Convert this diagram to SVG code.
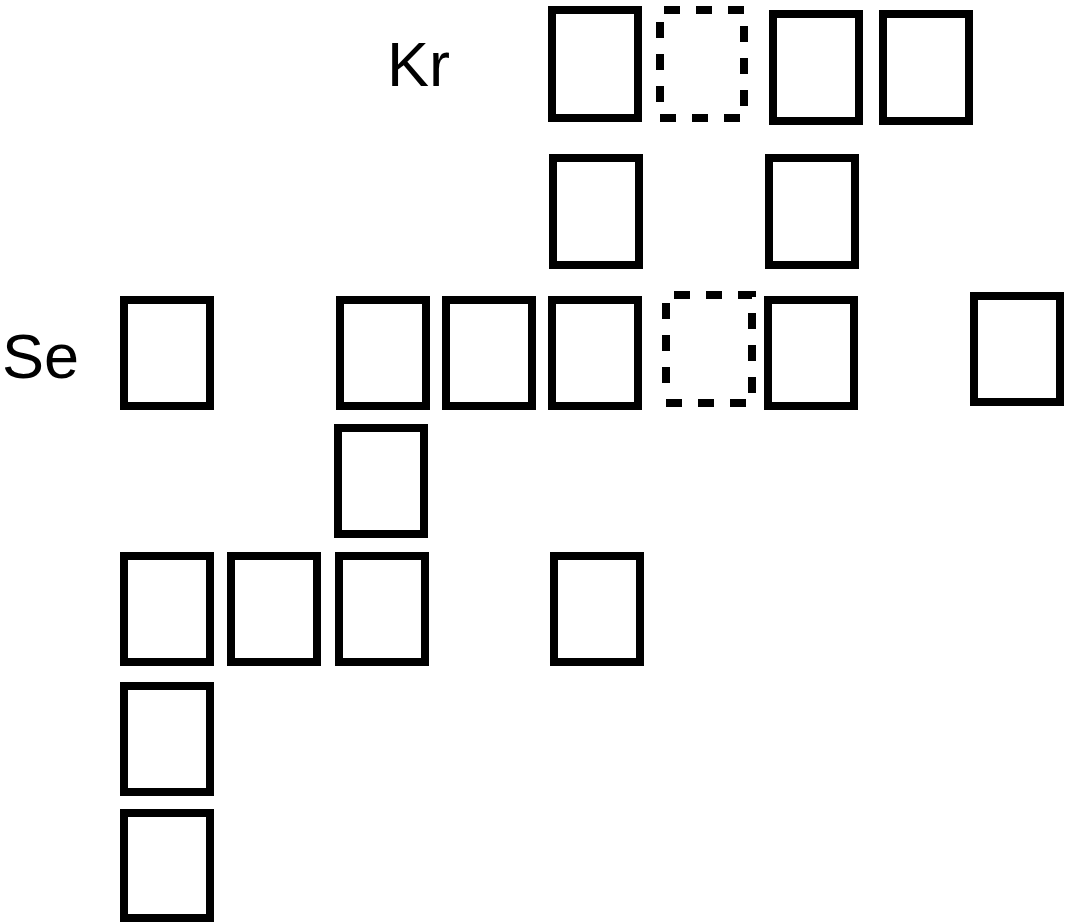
<svg xmlns="http://www.w3.org/2000/svg" width="1065" height="923" viewBox="0 0 1065 923">
<style>
.b{fill:none;stroke:#000;stroke-width:8}
.d{fill:none;stroke:#000;stroke-width:8;stroke-dasharray:16 16}
.t{font-family:"Liberation Sans",Arial,sans-serif;font-size:63px;fill:#000}
</style>
<rect width="1065" height="923" fill="#fff"/>
<g id="labels">
<text class="t" x="387" y="86">Kr</text>
<text class="t" x="2" y="378">Se</text>
</g>
<g id="n1"><rect class="b" x="552" y="10" width="86" height="108"/></g>
<g id="n2"><rect class="d" x="660" y="10" width="84" height="108" stroke-dashoffset="-4"/></g>
<g id="n3"><rect class="b" x="773" y="14" width="86" height="107"/></g>
<g id="n4"><rect class="b" x="883" y="14" width="86" height="107"/></g>
<g id="n5"><rect class="b" x="553" y="158" width="86" height="107"/></g>
<g id="n6"><rect class="b" x="769" y="158" width="86" height="107"/></g>
<g id="n7"><rect class="b" x="124" y="300" width="86" height="106"/></g>
<g id="n8"><rect class="b" x="340" y="300" width="86" height="106"/></g>
<g id="n9"><rect class="b" x="446" y="300" width="86" height="106"/></g>
<g id="n10"><rect class="b" x="552" y="300" width="86" height="106"/></g>
<g id="n11"><path class="d" d="M666,295 H752 V403 H666" stroke-dashoffset="-8"/><path class="d" d="M666,383 V303"/></g>
<g id="n12"><rect class="b" x="768" y="300" width="86" height="106"/></g>
<g id="n13"><rect class="b" x="974" y="296" width="86" height="106"/></g>
<g id="n14"><rect class="b" x="338" y="428" width="86" height="106"/></g>
<g id="n15"><rect class="b" x="124" y="556" width="86" height="106"/></g>
<g id="n16"><rect class="b" x="231" y="556" width="86" height="106"/></g>
<g id="n17"><rect class="b" x="339" y="556" width="86" height="106"/></g>
<g id="n18"><rect class="b" x="554" y="556" width="86" height="106"/></g>
<g id="n19"><rect class="b" x="124" y="686" width="86" height="106"/></g>
<g id="n20"><rect class="b" x="124" y="813" width="86" height="105"/></g>
<g id="connectors"></g>
</svg>
